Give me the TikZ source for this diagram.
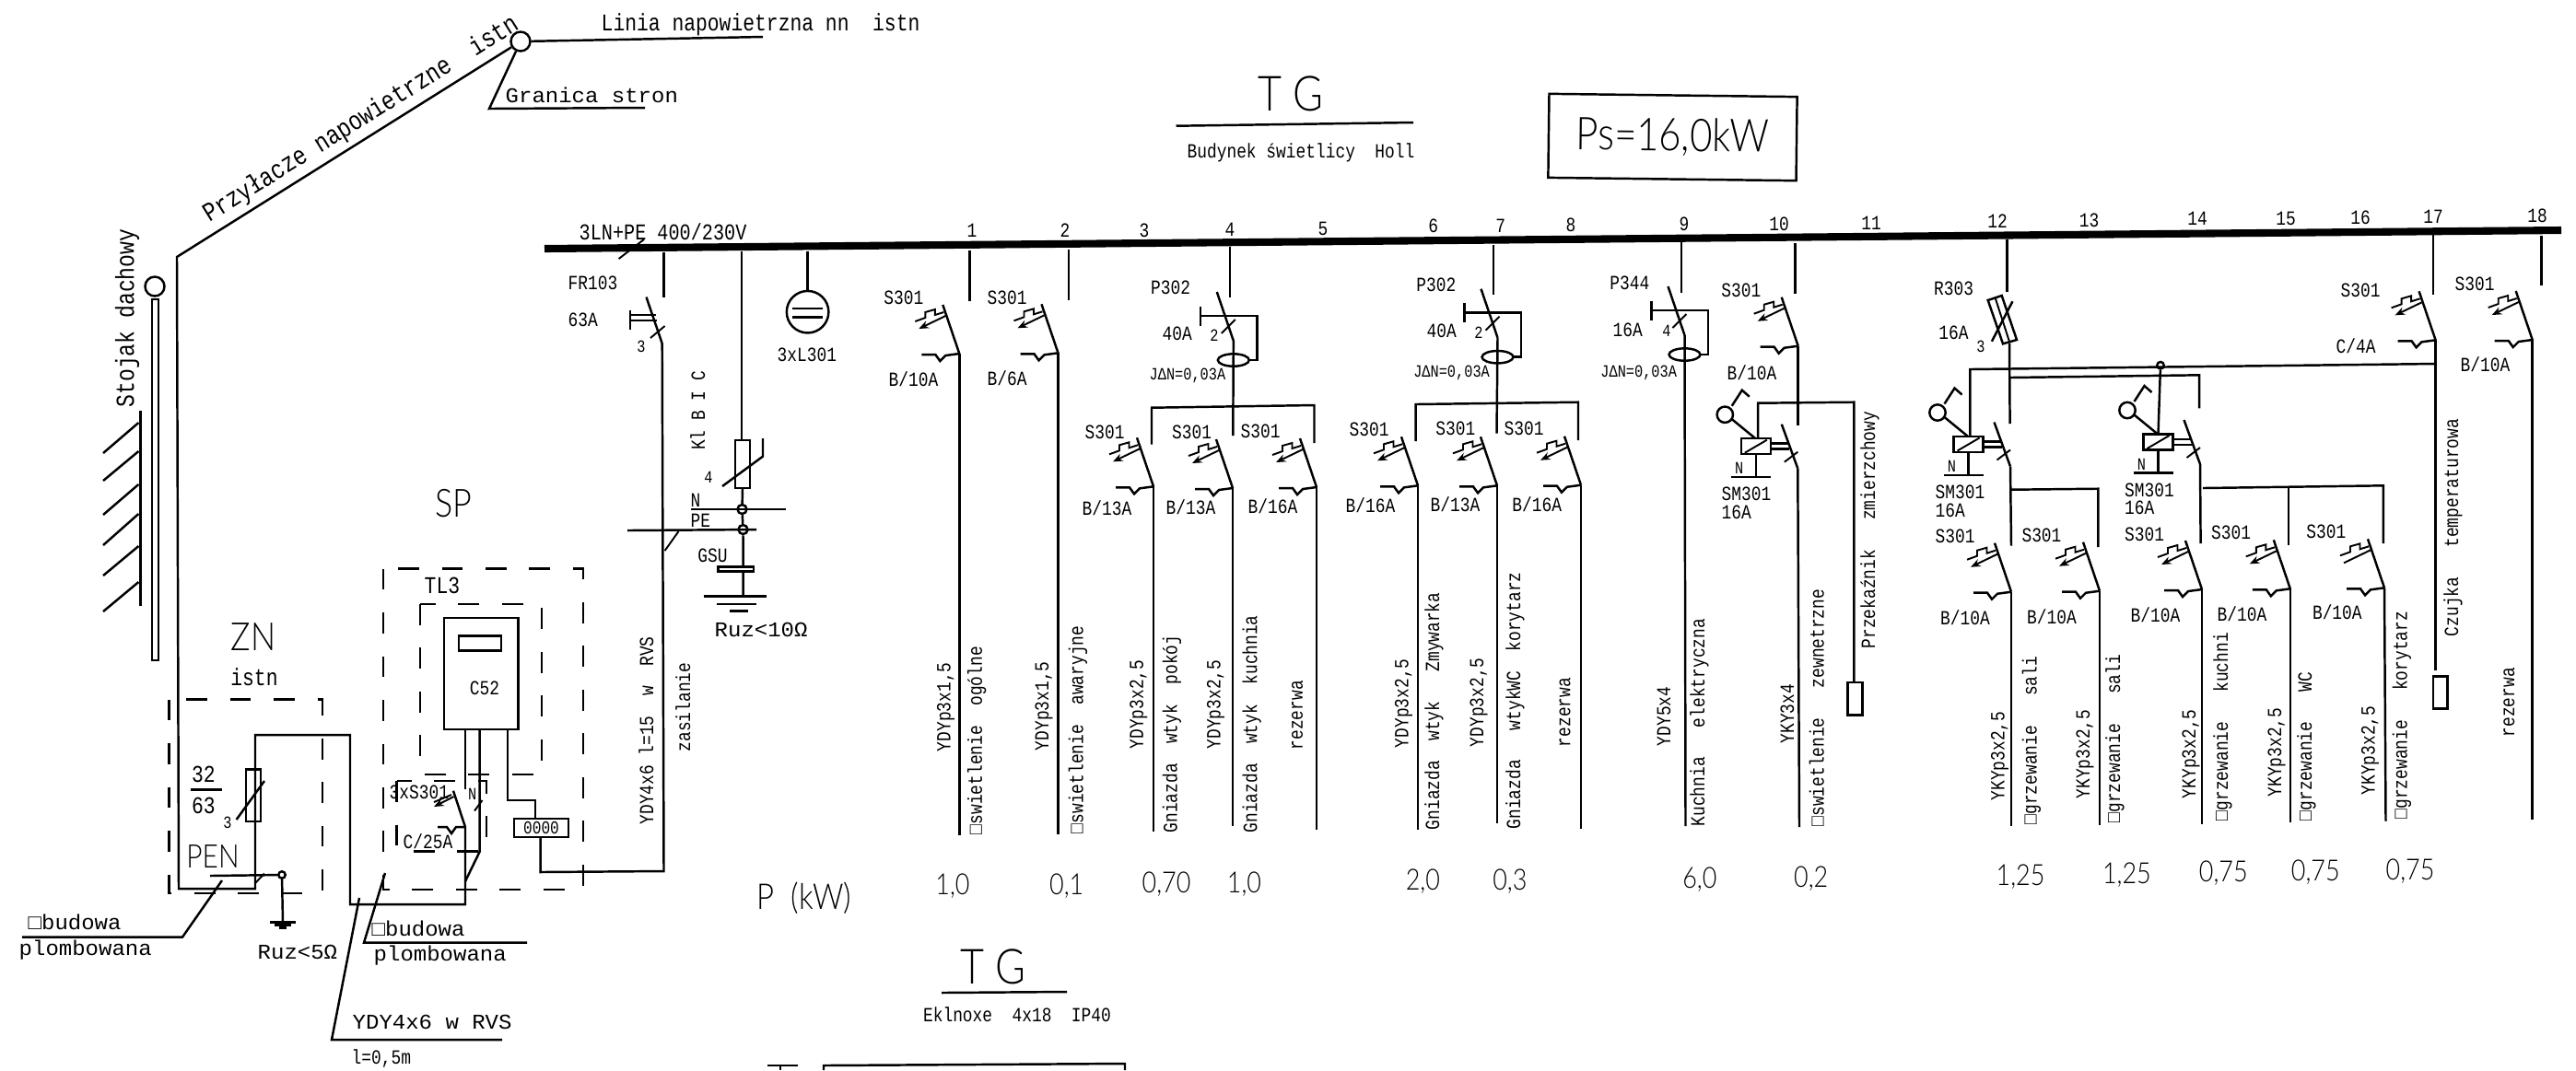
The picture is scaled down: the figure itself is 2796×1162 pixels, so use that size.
\documentclass[tikz,border=0pt]{standalone}
\usepackage{fontspec}
\setmainfont[FakeStretch=0.82]{Liberation Mono}
\newfontfamily\widefont[FakeStretch=1.05]{Liberation Mono}
\newfontfamily\thinfont[FakeStretch=0.85]{Lato Light}
\usetikzlibrary{arrows.meta}
\tikzset{
  wire/.style={line width=0.7pt},
  thin wire/.style={line width=0.55pt},
  bus/.style={line width=2.3pt},
  boxdash/.style={line width=0.7pt,dash pattern=on 6.5pt off 7pt},
  lbl/.style={inner sep=0pt,anchor=base west,font=\fontsize{6.2}{7}\selectfont},
  tinylbl/.style={lbl,font=\fontsize{5.3}{6}\selectfont},
  midlbl/.style={lbl,font=\fontsize{7.4}{9}\selectfont},
  widelbl/.style={lbl,font=\widefont\fontsize{6.5}{8}\selectfont},
  vlbl/.style={lbl,rotate=90},
  numlbl/.style={inner sep=0pt,font=\fontsize{6.2}{7}\selectfont},
  powlbl/.style={inner sep=0pt,font=\thinfont\fontsize{9}{10}\selectfont},
  junc/.style={circle,draw,line width=0.7pt,inner sep=0pt,minimum size=0.21cm},
  dotjunc/.style={circle,draw,line width=0.7pt,inner sep=0pt,minimum size=0.075cm},
  brktip/.style={-{Stealth[length=3pt,width=2.4pt]}},
  brk/.pic={
    \draw[wire] (-18,-53) -- (0,0);
    \draw[wire] (-41,1) -- (-26,1) -- (-21,8) -- (-15,2) -- (0,0);
    \draw[thin wire,brktip] (-15,-41) -- (-44,-27);
    \draw[thin wire] (-48,-35) -- (-37,-39) -- (-37,-45) -- (-26.5,-48) -- (-26.5,-42) -- (-17,-45);
  },
  rcd/.pic={
    \draw[wire] (-18,-53) -- (0,0);
    \draw[wire] (-36,-37.5) -- (-36,-16.5);
    \draw[wire] (-36,-27) -- (25.5,-27) -- (25.5,21) -- (17,21);
    \draw[wire] (0,21) ellipse [x radius=17,y radius=6.7];
    \draw[thin wire] (-13,-8) -- (2,-23);
  },
  relay/.pic={
    \coordinate (-top) at (0,-8.5);
    \coordinate (-tip) at (45.5,24);
    \draw[wire] (-16,-8.5) rectangle (16,8.5);
    \draw[thin wire] (-12,7) -- (12,-7);
    \draw[wire] (-33.5,-34.5) circle [radius=8.7];
    \draw[wire] (-26,-29.5) -- (-1,-9);
    \draw[wire] (-26,-44) -- (-15,-61) -- (-7,-54);
    \draw[wire] (16,-3) -- (36,-3) (16,3) -- (36,3);
    \draw[wire] (28,-24) -- (45.5,24);
    \draw[thin wire] (31,17) -- (45.5,6);
    \draw[wire] (0,8.5) -- (0,33) (-27,33.5) -- (16,33.5);
    \node[tinylbl,anchor=center] (-n) at (-18,24) {N};
  },
}
\begin{document}
\begin{tikzpicture}[x=0.01cm,y=-0.01cm]
\useasboundingbox (0,0) rectangle (2796,1162);

\coordinate (busL) at (591,270);
\coordinate (busR) at (2780,250);
\draw[bus] (busL) -- (busR);
\node[lbl,font=\fontsize{7}{8}\selectfont] (busT) at (628,260) {3LN+PE 400/230V};
\coordinate (tickA) at (671.6,281);
\coordinate (tickB) at (699,260);
\draw[thin wire] (tickA) -- (tickB);

\foreach \n/\x/\y in {1/1055/250,2/1156/250,3/1242/250,4/1335/249,5/1436/248,6/1555.6/245.7,7/1628.6/245.7,8/1705/244,9/1828/243,10/1931/243,11/2031/242,12/2168/240,13/2267.5/239,14/2385/237,15/2481/237,16/2562/236,17/2641/235,18/2754/234}
  \node[numlbl] (no\n) at (\x,\y) {\n};

\foreach \n/\x/\ya/\yb in {f1/1052.5/271.7/326.7,f2/1160/271/326,f4/1335/268/323,f7/1621/266/320,f9/1825/263/318,f10/1948.3/264/319,f12/2178.3/260/316.7,f17/2640.8/255/320,f18/2758.6/256/310,fr/720.4/273.6/322.6}{
  \coordinate (\n a) at (\x,\ya);
  \coordinate (\n b) at (\x,\yb);
  \draw[wire] (\n a) -- (\n b);
}

\foreach \n/\x/\y/\ye in {a1/1041.3/384/906.7,a2/1148.5/383.3/905.7,a3/1252/528.3/903,a4/1338/530/897,a5/1429/529/901,a6/1539/527.3/901,a7/1625/527.3/894,a8/1716/526.7/900,a10/1951.7/375.7/462.3,a12/2183/642.7/896.7,a13/2279/641.7/896,a14/2390/640/895,a15/2485.8/639.3/893.3,a17/2643.6/369.3/728.3,a18/2748.7/369/890}{
  \coordinate (\n) at (\x,\y);
  \coordinate (\n e) at (\x,\ye);
  \pic at (\n) {brk};
  \draw[wire] (\n) -- (\n e);
}
\coordinate (a16) at (2588,638.3);
\coordinate (a16e) at (2589.5,891.7);
\pic[brktip/.style={}] at (a16) {brk};
\draw[wire] (a16) -- (a16e);

\coordinate (r4) at (1338.8,370);
\coordinate (r4e) at (1338.3,473);
\pic at (r4) {rcd};
\draw[wire] (r4) -- (r4e);
\coordinate (r7) at (1625.5,366.7);
\coordinate (r7e) at (1624.5,470.7);
\pic at (r7) {rcd};
\draw[wire] (r7) -- (r7e);
\coordinate (r9) at (1828.5,364);
\coordinate (r9e) at (1829.5,897);
\pic at (r9) {rcd};
\draw[wire] (r9) -- (r9e);

\foreach \n/\xa/\ya/\xb/\yb/\yc/\yd in {b4/1250/442.7/1426.5/440/482.7/481,b7/1536.7/439/1713/436.7/479/478,b10/1908/437.7/2012.3/436.7/476.7/741.7,b12/2138.4/401/2644.5/395/473/395}{
  \coordinate (\n l) at (\xa,\ya);
  \coordinate (\n r) at (\xb,\yb);
  \coordinate (\n ld) at (\xa,\yc);
  \coordinate (\n rd) at (\xb,\yd);
  \draw[wire] (\n ld) -- (\n l) -- (\n r) -- (\n rd);
}
\foreach \n/\xa/\ya/\xb/\yb/\yd in {c12/2182/410/2387/407.3/443.3,c13/2183/531.7/2277.4/530.7/594,c14/2391/530/2586.8/527.3/590}{
  \coordinate (\n l) at (\xa,\ya);
  \coordinate (\n r) at (\xb,\yb);
  \coordinate (\n rd) at (\xb,\yd);
  \draw[wire] (\n l) -- (\n r) -- (\n rd);
}
\coordinate (c15a) at (2484,529.3);
\coordinate (c15b) at (2484,591.7);
\draw[wire] (c15a) -- (c15b);

\pic (rel10) at (1905.8,484.7) {relay};
\coordinate (rel10e) at (1953,898);
\draw[wire] (rel10-tip) -- (rel10e);
\pic (rel12) at (2136.5,482.5) {relay};
\coordinate (rel12e) at (2183,592.7);
\draw[wire] (rel12-tip) -- (rel12e);
\pic (rel14) at (2342.5,480) {relay};
\coordinate (rel14e) at (2388.6,590);
\draw[wire] (rel14-tip) -- (rel14e);
\node[dotjunc] (j14) at (2345,396.7) {};
\draw[wire] (j14) -- (rel14-top);

\coordinate (fusetop) at (2181,372.7);
\coordinate (fusee) at (2181.6,460);
\draw[wire] (2157.7,326) -- (2172.7,321) -- (2189,369) -- (2174,373.3) -- cycle;
\draw[thin wire] (2165.6,323.3) -- (2181,371);
\draw[wire] (2184.4,327.3) -- (2161.9,370.7);
\draw[wire] (fusetop) -- (fusee);

\draw[wire] (2005.6,741) rectangle (2021.7,776.7);
\draw[wire] (2641,734.3) rectangle (2656.7,769.3);

\foreach \n/\x/\y in {1/958.7/330.7,2/1071/330,3/1177/476.7,4/1271.4/476,5/1346/475,6/1464/473,7/1557.7/472.7,8/1632/472,10/1867.7/322.7,12/2100/589,13/2193.8/588,14/2305.5/587.7,15/2399.4/585.7,16/2502.7/584,17/2540/322.7,18/2664/315}
  \node[lbl] (sa\n) at (\x,\y) {S301};
\foreach \n/\x/\y in {1/964/419,10/1874/412,12/2105.5/678,13/2199.4/677.3,14/2312/675,15/2406/674,16/2509.3/672.7,18/2670/403}
  \node[lbl] (bt\n) at (\x,\y) {B/10A};
\node[lbl] (bs2) at (1071,418) {B/6A};
\foreach \n/\x/\y in {3/1174/559,4/1265/558,7/1552/555.7}
  \node[lbl] (bd\n) at (\x,\y) {B/13A};
\foreach \n/\x/\y in {5/1354/557,6/1460/556.7,8/1640.7/555}
  \node[lbl] (bx\n) at (\x,\y) {B/16A};
\node[lbl] (ca17) at (2535,383.3) {C/4A};
\foreach \n/\x/\y in {4/1248.5/319,7/1536.7/316.7}
  \node[lbl] (pa\n) at (\x,\y) {P302};
\foreach \n/\x/\y in {4/1261/369,7/1548/366}
  \node[lbl] (pb\n) at (\x,\y) {40A};
\foreach \n/\x/\y in {4/1247/412.7,7/1533.6/409,9/1736.7/409}
  \node[tinylbl] (ja\n) at (\x,\y) {JΔN=0,03A};
\node[lbl] (pa9) at (1746.7,314) {P344};
\node[lbl] (pb9) at (1750,365) {16A};
\node[lbl] (pa12) at (2098.5,320) {R303};
\node[lbl] (pb12) at (2103.7,368) {16A};
\foreach \n/\x/\ya/\yb in {10/1868/543/563,12/2100/541.7/561,14/2305.5/539/558}{
  \node[lbl] (sm\n) at (\x,\ya) {SM301};
  \node[lbl] (sn\n) at (\x,\yb) {16A};
}
\node[tinylbl,anchor=center] (nr4) at (1318,364) {2};
\node[tinylbl,anchor=center] (nr7) at (1605,361.7) {2};
\node[tinylbl,anchor=center] (nr9) at (1809,359) {4};
\node[tinylbl,anchor=center] (nr12) at (2150,376.7) {3};

\foreach \n/\x/\y in {1/1031.6/816.7,2/1138/815.7}
  \node[vlbl] (ca\n) at (\x,\y) {YDYp3x1,5};
\foreach \n/\x/\y in {3/1240.8/814,4/1324.5/814,6/1528.6/812.7,7/1610/811.7}
  \node[vlbl] (cb\n) at (\x,\y) {YDYp3x2,5};
\foreach \n/\x/\y in {12/2175.5/870,13/2268/868,14/2383/867.7,15/2476/866,16/2577.6/864}
  \node[vlbl] (cc\n) at (\x,\y) {YKYp3x2,5};
\foreach \n/\x/\y in {5/1413.8/815,8/1704.3/811.7,18/2729/801}
  \node[vlbl] (rz\n) at (\x,\y) {rezerwa};
\node[vlbl] (cd9) at (1813,810.7) {YDY5x4};
\node[vlbl] (cd10) at (1947,808) {YKY3x4};
\node[vlbl] (ds1) at (1065.8,906.7) {□swietlenie~~ogólne};
\node[vlbl] (ds2) at (1175.5,905.7) {□swietlenie~~awaryjne};
\node[vlbl] (ds3) at (1277.5,905) {Gniazda~~wtyk~~pokój};
\node[vlbl] (ds4) at (1364.3,905) {Gniazda~~wtyk~~kuchnia};
\node[vlbl] (ds6) at (1562,901.7) {Gniazda~~wtyk~~~Zmywarka};
\node[vlbl] (ds7) at (1650,901) {Gniazda~~~wtykWC~~korytarz};
\node[vlbl] (ds9) at (1850,898) {Kuchnia~~~elektryczna};
\node[vlbl] (ds10) at (1979.7,898) {□swietlenie~~~zewnetrzne};
\node[vlbl] (ds11) at (2035,705) {Przekaźnik~~~zmierzchowy};
\node[vlbl] (ds12) at (2210.5,896) {□grzewanie~~~sali};
\node[vlbl] (ds13) at (2301,894) {□grzewanie~~~sali};
\node[vlbl] (ds14) at (2418,891.7) {□grzewanie~~~kuchni};
\node[vlbl] (ds15) at (2509,891.7) {□grzewanie~~~WC};
\node[vlbl] (ds16) at (2612.6,890) {□grzewanie~~~korytarz};
\node[vlbl] (ds17) at (2668,691.7) {Czujka~~~temperaturowa};

\foreach \n/\x/\y/\t in {1/1034/961.7/{1,0},2/1157.7/961.7/{0,1},3/1266/960/{0,70},4/1350.5/960/{1,0},6/1544.4/956.7/{2,0},7/1638.8/956.7/{0,3},9/1844.8/955/{6,0},10/1965.7/954/{0,2},12/2193/951.7/{1,25},13/2308.4/950/{1,25},14/2413.3/948.3/{0,75},15/2513.3/947.3/{0,75},16/2616/946/{0,75}}
  \node[powlbl] (pw\n) at (\x,\y) {\t};
\node[inner sep=0pt,font=\thinfont\fontsize{11}{12}\selectfont] (pkw) at (873,975) {P~~(kW)};

\node[inner sep=0pt,font=\thinfont\fontsize{15}{18}\selectfont] (tgtop) at (1401,102) {T~G};
\coordinate (tgla) at (1276.5,136.7);
\coordinate (tglb) at (1534,133);
\draw[wire] (tgla) -- (tglb);
\node[numlbl] (hall) at (1412,166) {Budynek świetlicy~~Holl};
\node[draw,line width=0.7pt,rotate=-0.7,inner sep=0pt,minimum width=2.69cm,minimum height=0.91cm,font=\thinfont\fontsize{14}{15}\selectfont] (ps) at (1815.5,149) {Ps=16,0kW};

\node[inner sep=0pt,font=\thinfont\fontsize{15}{18}\selectfont] (tgbot) at (1078,1050) {T~G};
\coordinate (tbla) at (1022,1078);
\coordinate (tblb) at (1158,1077);
\draw[wire] (tbla) -- (tblb);
\node[numlbl] (lamp) at (1104,1102) {Eklnoxe~~4x18~~IP40};
\coordinate (cuta) at (833,1157);
\coordinate (cutb) at (866,1157);
\coordinate (cutc) at (847,1157);
\coordinate (cutd) at (847,1162);
\draw[wire] (cuta) -- (cutb) (cutc) -- (cutd);
\coordinate (cute) at (894,1162);
\coordinate (cutf) at (894,1157);
\coordinate (cutg) at (1221,1155);
\coordinate (cuth) at (1221,1162);
\draw[wire] (cute) -- (cutf) -- (cutg) -- (cuth);

\node[junc] (pole) at (565,45) {};
\coordinate (neta) at (828,40);
\draw[wire] (pole) -- (neta);
\node[midlbl] (nett) at (652,33) {Linia napowietrzna nn~~istn};
\coordinate (grana) at (531,118);
\coordinate (granb) at (700,117);
\draw[wire] (pole) -- (grana) -- (granb);
\node[widelbl] (grant) at (548,111) {Granica stron};
\node[inner sep=0pt,rotate=32,font=\fontsize{8.2}{9}\selectfont] (przy) at (392,130) {Przyłacze napowietrzne~~istn};

\coordinate (w1) at (192,279);
\coordinate (w2) at (194,965);
\coordinate (w3) at (277,965);
\coordinate (w4) at (277,798);
\coordinate (w5) at (380,798);
\coordinate (w6) at (380,982);
\coordinate (w7) at (505,982);
\coordinate (w8) at (505,898);
\draw[wire] (pole) -- (w1) -- (w2) -- (w3) -- (w4) -- (w5) -- (w6) -- (w7) -- (w8);

\node[inner sep=0pt,rotate=90,font=\fontsize{8}{9}\selectfont] (stojak) at (138,345.5) {Stojak dachowy};
\node[junc] (stub) at (168,311) {};
\draw[wire] (165,325) rectangle (172,717);
\coordinate (walla) at (152.7,446);
\coordinate (wallb) at (152.7,658);
\draw[wire] (walla) -- (wallb);
\foreach \ya/\yb in {459/492,490/522,526/559,558/592,593/625,632/664}
  \draw[wire] (150.4,\ya) -- (112,\yb);

\node[inner sep=0pt,font=\thinfont\fontsize{12}{14}\selectfont] (zn) at (275,692) {ZN};
\node[midlbl,anchor=center] (zni) at (276,735) {istn};
\draw[boxdash] (183.7,759.6) rectangle (350,970);
\draw[wire] (267,835.6) rectangle (283,892);
\draw[wire] (256.6,890) -- (287,848);
\node[tinylbl,anchor=center] (zn3) at (247,893) {3};
\node[midlbl,anchor=center] (zn32) at (221,841) {32};
\coordinate (fraca) at (207,857.5);
\coordinate (fracb) at (241,857.5);
\draw[wire] (fraca) -- (fracb);
\node[midlbl,anchor=center] (zn63) at (221,875) {63};
\node[inner sep=0pt,font=\thinfont\fontsize{10}{11}\selectfont] (pen) at (231,930) {PEN};
\node[dotjunc] (pend) at (306,950) {};
\coordinate (pena) at (228,951);
\draw[wire] (pena) -- (pend);
\draw[thin wire] (277,959) -- (287,948.5);
\coordinate (gnda) at (307,1001.5);
\draw[wire] (pend) -- (gnda);
\draw[wire] (293,1001.5) -- (321,1001.5) (298,1004.5) -- (316,1004.5) (303,1007.5) -- (311,1007.5);
\node[widelbl] (ruz5) at (279,1041) {Ruz<5Ω};

\node[widelbl] (ob1) at (30,1009) {□budowa};
\node[widelbl] (pl1) at (20,1037) {plombowana};
\coordinate (ob1a) at (24,1017.6);
\coordinate (ob1b) at (198,1017.6);
\coordinate (ob1c) at (241,956);
\draw[wire] (ob1a) -- (ob1b) -- (ob1c);
\node[widelbl] (ob2) at (403,1016) {□budowa};
\node[widelbl] (pl2) at (405,1043) {plombowana};
\coordinate (ob2a) at (572,1023.7);
\coordinate (ob2b) at (395,1023.7);
\coordinate (ob2c) at (418,948);
\draw[wire] (ob2a) -- (ob2b) -- (ob2c);
\node[widelbl] (ydy) at (382,1117) {YDY4x6 w RVS};
\coordinate (ydya) at (545,1129);
\coordinate (ydyb) at (360,1129);
\coordinate (ydyc) at (390,975);
\draw[wire] (ydya) -- (ydyb) -- (ydyc);
\node[lbl] (ydyl) at (381,1155) {l=0,5m};

\node[inner sep=0pt,font=\thinfont\fontsize{12}{14}\selectfont] (sp) at (492,547) {SP};
\draw[boxdash] (416,617.6) rectangle (633,966);
\node[midlbl] (tl3) at (460,644.5) {TL3};
\draw[boxdash] (456,656) rectangle (588,841);
\node[draw,line width=0.7pt,inner sep=0pt,minimum width=0.806cm,minimum height=1.21cm] (meter) at (522.3,731.5) {};
\draw[wire] (498,690.5) rectangle (544,706.6);
\node[numlbl] (c52) at (526,747) {C52};
\draw[boxdash] (430.5,848) rectangle (528,924.7);
\node[lbl] (sm3) at (422,867) {3xS301};
\node[lbl] (c25) at (437,921.6) {C/25A};
\node[tinylbl,anchor=center] (nm) at (512.6,862.5) {N};
\coordinate (ma) at (505,792);
\coordinate (mb) at (505,857);
\draw[wire] (ma) -- (mb);
\coordinate (mc) at (520.7,792);
\coordinate (md) at (520.7,924.7);
\coordinate (me) at (505,957);
\draw[wire] (mc) -- (md) -- (me);
\draw[thin wire] (515,880.5) -- (523.5,869);
\draw[wire] (492,858.7) -- (w8);
\draw[wire] (475,898) -- (485,898) -- (490,905) -- (495,898) -- (w8);
\draw[thin wire,brktip] (492.5,865) -- (471,876);
\draw[thin wire] (471,871) -- (490,863);
\node[draw,line width=0.7pt,inner sep=0pt,minimum width=0.59cm,minimum height=0.196cm,font=\fontsize{5.6}{6}\selectfont] (term) at (587.5,899) {0000};
\coordinate (ta) at (551,792);
\coordinate (tb) at (551,869);
\coordinate (tc) at (581,869);
\coordinate (td) at (581,889);
\draw[wire] (ta) -- (tb) -- (tc) -- (td);
\coordinate (te) at (586.7,908.6);
\coordinate (tf) at (586.7,947);
\coordinate (tg) at (720.5,946);
\coordinate (frb) at (718.7,373);
\draw[wire] (te) -- (tf) -- (tg) -- (frb);
\coordinate (frt) at (701.5,322.6);
\draw[wire] (frb) -- (frt);
\draw[wire] (684,337) -- (684,358) (684,341.8) -- (712,341.8) (684,348) -- (713,348);
\draw[thin wire] (706,367) -- (721.6,354);
\node[tinylbl,anchor=center] (fr3) at (696,376) {3};
\node[lbl] (fr) at (616,314.6) {FR103};
\node[lbl] (fra) at (616,354) {63A};
\node[vlbl] (ydy15) at (709,896) {YDY4x6 l=15~~w~~RVS};
\node[vlbl] (zas) at (749,817) {zasilanie};

\coordinate (gsut) at (805,273);
\coordinate (gsuf) at (805,478);
\draw[wire] (gsut) -- (gsuf);
\draw[wire] (798,478) rectangle (814,530);
\draw[wire] (784,528) -- (828,495.6) -- (828,476);
\node[tinylbl,anchor=center] (su4) at (769,518.6) {4};
\node[vlbl,anchor=base] (klbc) at (765,446) {Kl B I C};
\node[dotjunc,minimum size=0.1cm] (nn) at (805.5,553) {};
\node[dotjunc,minimum size=0.1cm] (pe) at (806.5,575) {};
\coordinate (gsub) at (806,530);
\draw[wire] (gsub) -- (nn) -- (pe);
\coordinate (nla) at (750,553);
\coordinate (nlb) at (852.5,553);
\draw[wire] (nla) -- (nlb);
\coordinate (pla) at (681,576);
\coordinate (plb) at (821,575);
\draw[wire] (pla) -- (plb);
\node[lbl] (nt) at (749,550) {N};
\node[lbl] (pet) at (749,572) {PE};
\draw[thin wire] (736.5,577) -- (721.6,598);
\node[lbl] (gsu) at (756.6,610) {GSU};
\coordinate (gnde) at (806.6,646.4);
\draw[wire] (pe) -- (gnde);
\draw[wire,fill=white] (779.6,615.7) rectangle (818,620.6);
\draw[wire] (763.5,647.5) -- (832,647.5) (778,656) -- (821,656) (792,663.6) -- (812,663.6);
\node[widelbl] (ruz10) at (775,691) {Ruz<10Ω};

\node[junc,minimum size=0.455cm] (lamp3) at (876.6,338.7) {};
\coordinate (lampt) at (876.6,272.5);
\draw[wire] (lampt) -- (lamp3);
\draw[wire] (860,335) -- (893,335) (860,344.4) -- (893,344.4);
\node[lbl] (lampl) at (843,392) {3xL301};
\end{tikzpicture}
\end{document}
